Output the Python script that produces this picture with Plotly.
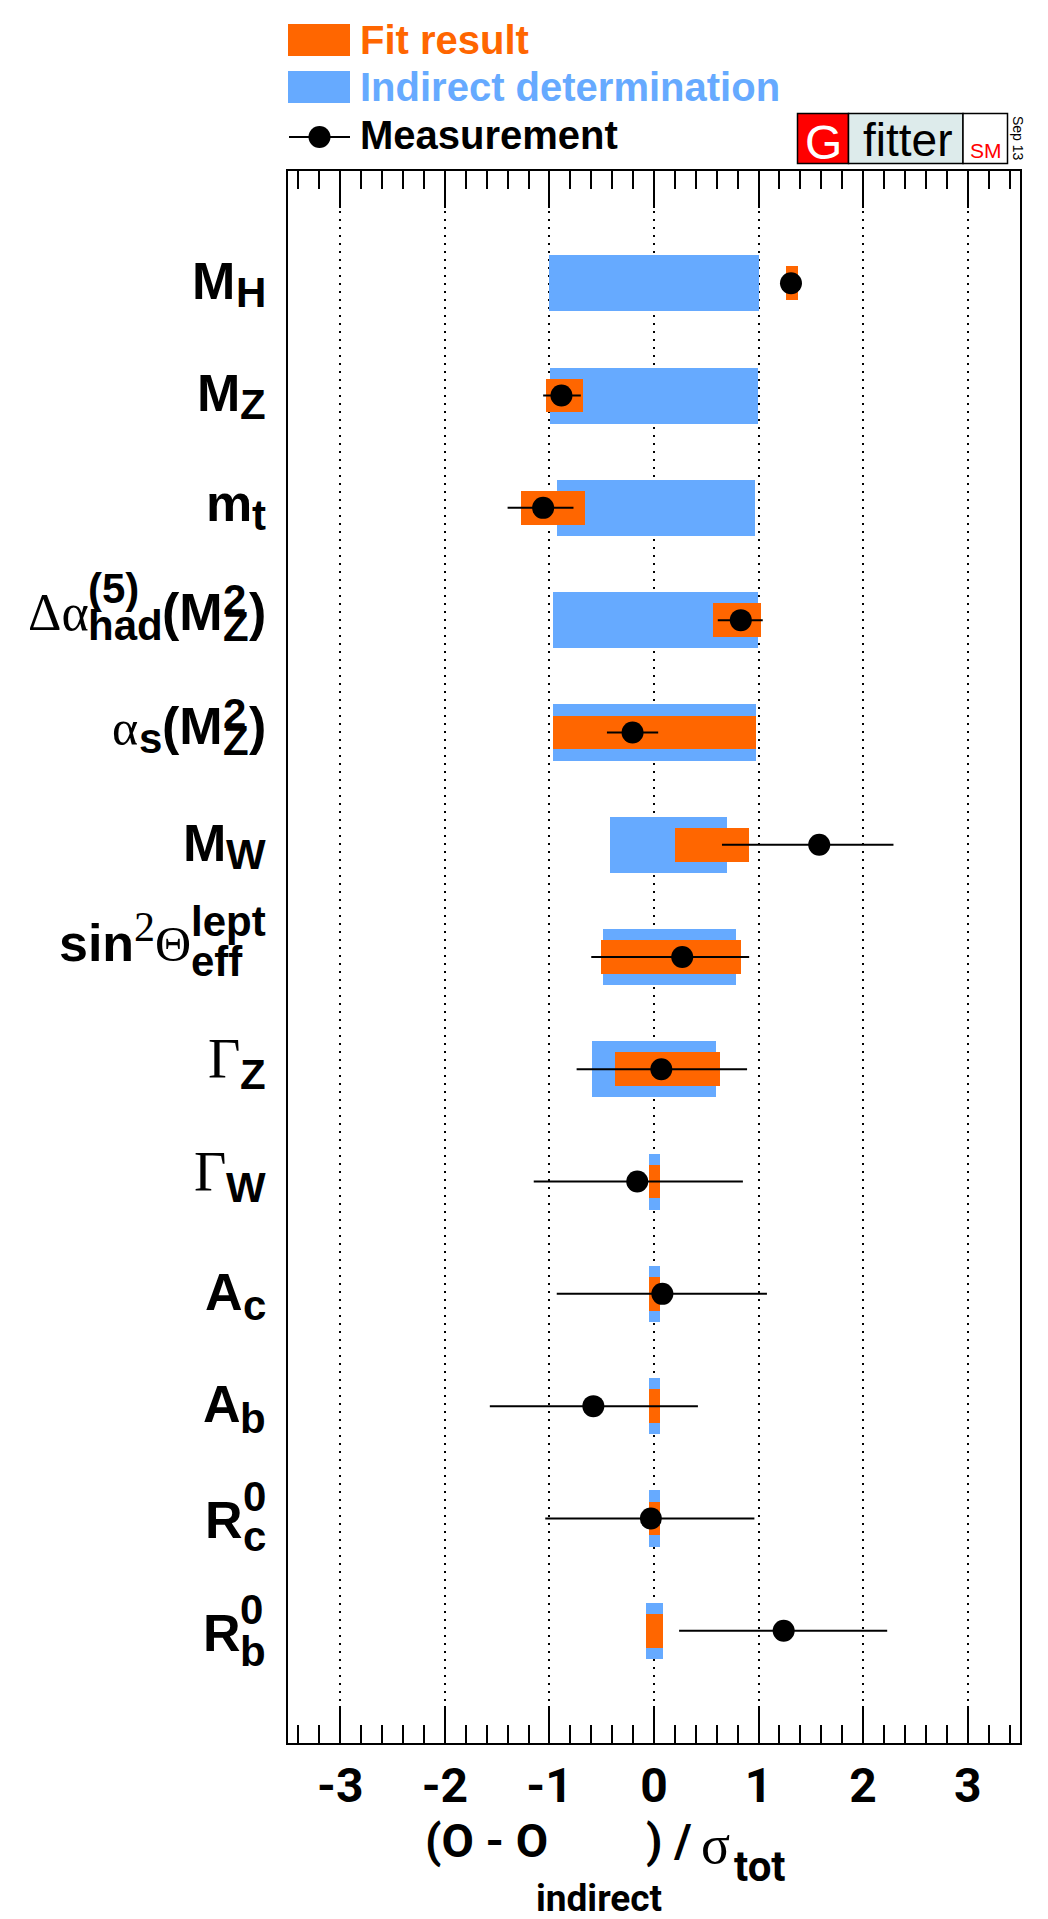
import plotly.graph_objects as go

# ---------------- data (values in units of sigma_tot) ----------------
rows = list(range(13))  # top to bottom
observables = ["M_H", "M_Z", "m_t", "Delta alpha_had(M_Z^2)", "alpha_s(M_Z^2)", "M_W",
               "sin^2 theta_eff^lept", "Gamma_Z", "Gamma_W", "A_c", "A_b", "R_c^0", "R_b^0"]
indirect_lo = [-1.00, -0.99, -0.93, -0.97, -0.97, -0.42, -0.49, -0.59, -0.05, -0.05, -0.05, -0.05, -0.076]
indirect_hi = [1.00, 0.99, 0.97, 0.99, 0.98, 0.70, 0.78, 0.59, 0.058, 0.058, 0.058, 0.058, 0.086]
fit_lo = [1.26, -1.03, -1.27, 0.56, -0.97, 0.20, -0.51, -0.375, -0.05, -0.05, -0.05, -0.05, -0.076]
fit_hi = [1.375, -0.68, -0.66, 1.02, 0.98, 0.91, 0.83, 0.635, 0.058, 0.058, 0.058, 0.058, 0.086]
meas = [1.31, -0.885, -1.06, 0.83, -0.205, 1.58, 0.27, 0.07, -0.16, 0.08, -0.58, -0.03, 1.24]
meas_lo = [1.27, -1.06, -1.40, 0.61, -0.45, 0.65, -0.60, -0.74, -1.15, -0.93, -1.57, -1.04, 0.24]
meas_hi = [1.35, -0.70, -0.77, 1.04, 0.04, 2.29, 0.91, 0.89, 0.85, 1.08, 0.42, 0.96, 2.23]
tick_vals = [-3, -2, -1, 0, 1, 2, 3]
tick_text = ["-3", "-2", "-1", "0", "1", "2", "3"]

ORANGE = "#FF6600"
BLUE = "#66AAFF"
SANS = "Liberation Sans"
COND = "Roboto"
SERIF = "Liberation Serif"

W, H = 1048, 1919
PL, PR, PT, PB = 288, 28, 171, 176
PW, PH = W - PL - PR, H - PT - PB

fig = go.Figure()

fig.add_trace(go.Bar(orientation="h", y=rows,
                     x=[h - l for l, h in zip(indirect_lo, indirect_hi)], base=indirect_lo,
                     width=0.5, marker=dict(color=BLUE, line=dict(width=0)),
                     name="Indirect determination", showlegend=False))
fig.add_trace(go.Bar(orientation="h", y=rows,
                     x=[h - l for l, h in zip(fit_lo, fit_hi)], base=fit_lo,
                     width=0.3, marker=dict(color=ORANGE, line=dict(width=0)),
                     name="Fit result", showlegend=False))
fig.add_trace(go.Scatter(x=meas, y=rows, mode="markers",
                         marker=dict(size=22, color="black", line=dict(width=0)),
                         error_x=dict(type="data", symmetric=False,
                                      array=[h - m for m, h in zip(meas, meas_hi)],
                                      arrayminus=[m - l for m, l in zip(meas, meas_lo)],
                                      width=0, thickness=2, color="black"),
                         name="Measurement", showlegend=False))

# ---------------- helpers ----------------
WB = {' ': 278, '(': 333, ')': 333, '-': 333, '/': 278, '0': 556, '1': 556, '2': 556, '3': 556,
      '5': 556, 'A': 722, 'H': 722, 'M': 833, 'O': 778, 'R': 722, 'W': 944, 'Z': 611,
      'a': 556, 'b': 611, 'c': 556, 'd': 611, 'e': 556, 'f': 333, 'h': 611, 'i': 278,
      'l': 278, 'm': 889, 'n': 611, 'o': 611, 'p': 611, 'r': 389, 's': 556, 't': 333, 'u': 611}
WS = {'Δ': 612, 'α': 540, 'Γ': 578, 'Θ': 722, 'σ': 550, '2': 500, ' ': 250}


def tw(text, size, fam):
    if fam == "s":
        return sum(WS.get(c, 500) for c in text) * size / 1000.0
    return sum(WB.get(c, 556) for c in text) * size / 1000.0


def font_of(fam, size, color):
    if fam == "b":
        return dict(family=SANS, size=size, color=color, weight="bold")
    if fam == "r":
        return dict(family=COND, size=size, color=color, weight="bold")
    return dict(family=SERIF, size=size, color=color, weight="normal")


def center_shift(fam, size):
    if fam == "s":
        asc, desc = 0.891, 0.216
    elif fam == "r":
        asc, desc = 0.928, 0.244
    else:
        asc, desc = 0.905, 0.212
    return size * (asc - desc) / 2.0


def row_text(px_left, row, base_off, text, fam, size, color="black"):
    c_off = base_off - center_shift(fam, size)
    fig.add_annotation(xref="paper", x=0, xanchor="left", xshift=px_left - PL,
                       yref="y", y=row, yanchor="middle", yshift=-c_off,
                       text=text, showarrow=False, font=font_of(fam, size, color),
                       borderpad=0, borderwidth=0)


def px_text(px, baseline, text, fam, size, color="black", xanchor="left"):
    cy = baseline - center_shift(fam, size)
    fig.add_annotation(xref="paper", x=(px - PL) / PW, xanchor=xanchor,
                       yref="paper", y=1 - (cy - PT) / PH, yanchor="middle",
                       text=text, showarrow=False, font=font_of(fam, size, color),
                       borderpad=0, borderwidth=0)


def pxx(px):
    return (px - PL) / PW


def pxy(py):
    return 1 - (py - PT) / PH


# ---------------- y labels (ROOT-style stacked sub/superscripts) ----------------
MAIN, SUB = 52, 42
label_specs = [
    (16, [("t", "M", "b", MAIN, 0), ("t", "H", "b", SUB, 8)]),
    (15, [("t", "M", "b", MAIN, 0), ("t", "Z", "b", SUB, 8)]),
    (13, [("t", "m", "b", MAIN, 0), ("t", "t", "b", SUB, 9)]),
    (10, [("t", "Δα", "s", 52, 0), ("st", "had", 10, "(5)", -27, SUB),
          ("t", "(M", "b", MAIN, 0), ("st", "Z", 11, "2", -16, SUB), ("t", ")", "b", MAIN, 0)]),
    (12, [("t", "α", "s", 50, 0), ("t", "s", "b", SUB, 9),
          ("t", "(M", "b", MAIN, 0), ("st", "Z", 11, "2", -16, SUB), ("t", ")", "b", MAIN, 0)]),
    (16, [("t", "M", "b", MAIN, 0), ("t", "W", "b", SUB, 8)]),
    (4, [("t", "sin", "b", MAIN, 0), ("t", "2", "s", SUB, -20), ("t", "Θ", "s", 50, 0),
         ("st", "eff", 15, "lept", -25, SUB)]),
    (9, [("t", "Γ", "s", 56, 0), ("t", "Z", "b", SUB, 11)]),
    (9, [("t", "Γ", "s", 56, 0), ("t", "W", "b", SUB, 11)]),
    (16, [("t", "A", "b", MAIN, 0), ("t", "c", "b", SUB, 10)]),
    (16, [("t", "A", "b", MAIN, 0), ("t", "b", "b", SUB, 11)]),
    (20, [("t", "R", "b", MAIN, 0), ("st", "c", 13, "0", -27, SUB)]),
    (20, [("t", "R", "b", MAIN, 0), ("st", "b", 15, "0", -27, SUB)]),
]
LABEL_RIGHT = 266


def seg_width(s):
    if s[0] == "t":
        return tw(s[1], s[3], s[2])
    return max(tw(s[1], s[5], "b"), tw(s[3], s[5], "b"))


for row, (boff, segs) in zip(rows, label_specs):
    total = sum(seg_width(s) for s in segs)
    x = LABEL_RIGHT - total
    for s in segs:
        if s[0] == "t":
            row_text(x, row, boff + s[4], s[1], s[2], s[3])
        else:
            row_text(x, row, boff + s[2], s[1], "b", s[5])
            row_text(x, row, boff + s[4], s[3], "b", s[5])
        x += seg_width(s)

# ---------------- x axis title ----------------
TB = 1857
px_text(425, TB, "(O - O", "r", 47)
px_text(536, TB + 54, "indirect", "r", 37)
px_text(646, TB, ") /", "r", 47)
px_text(701, TB + 6, "σ", "s", 54)
px_text(734, TB + 24, "tot", "r", 42)

# ---------------- legend ----------------
shapes = []
shapes.append(dict(type="rect", xref="paper", yref="paper", x0=pxx(288), x1=pxx(350),
                   y0=pxy(24), y1=pxy(56), fillcolor=ORANGE, line=dict(width=0)))
shapes.append(dict(type="rect", xref="paper", yref="paper", x0=pxx(288), x1=pxx(350),
                   y0=pxy(71), y1=pxy(103), fillcolor=BLUE, line=dict(width=0)))
shapes.append(dict(type="line", xref="paper", yref="paper", x0=pxx(289), x1=pxx(350),
                   y0=pxy(137), y1=pxy(137), line=dict(color="black", width=2)))
shapes.append(dict(type="circle", xref="paper", yref="paper", x0=pxx(308.5), x1=pxx(330.5),
                   y0=pxy(126), y1=pxy(148), fillcolor="black", line=dict(width=0)))
px_text(360, 53.5, "Fit result", "b", 40, ORANGE)
px_text(360, 100.5, "Indirect determination", "b", 40, BLUE)
px_text(360, 149, "Measurement", "b", 40, "black")

# ---------------- Gfitter logo ----------------
shapes.append(dict(type="rect", xref="paper", yref="paper", x0=pxx(797.5), x1=pxx(848.5),
                   y0=pxy(113.5), y1=pxy(163.5), fillcolor="#FF0000", line=dict(color="black", width=1.5)))
shapes.append(dict(type="rect", xref="paper", yref="paper", x0=pxx(848.5), x1=pxx(963),
                   y0=pxy(113.5), y1=pxy(163.5), fillcolor="#DDEBEB", line=dict(color="black", width=1.5)))
shapes.append(dict(type="rect", xref="paper", yref="paper", x0=pxx(963), x1=pxx(1007.5),
                   y0=pxy(113.5), y1=pxy(163.5), fillcolor="white", line=dict(color="black", width=1.5)))
fig.add_annotation(xref="paper", yref="paper", x=pxx(823), y=pxy(142.5), xanchor="center", yanchor="middle",
                   text="G", showarrow=False, font=dict(family=SANS, size=48, color="white"),
                   borderpad=0, borderwidth=0)
fig.add_annotation(xref="paper", yref="paper", x=pxx(907.5), y=pxy(140.5), xanchor="center", yanchor="middle",
                   text="fitter", showarrow=False, font=dict(family=SANS, size=46, color="black"),
                   borderpad=0, borderwidth=0)
fig.add_annotation(xref="paper", yref="paper", x=pxx(986), y=pxy(150), xanchor="center", yanchor="middle",
                   text="SM", showarrow=False, font=dict(family=SANS, size=21, color="#FF0000"),
                   borderpad=0, borderwidth=0)
fig.add_annotation(xref="paper", yref="paper", x=pxx(1018), y=pxy(138), xanchor="center", yanchor="middle",
                   text="Sep 13", showarrow=False, textangle=90, font=dict(family=SANS, size=14, color="black"),
                   borderpad=0, borderwidth=0)

fig.update_layout(
    width=W, height=H, autosize=False,
    margin=dict(l=PL, r=PR, t=PT, b=PB, pad=0),
    template="none",
    paper_bgcolor="white", plot_bgcolor="white",
    barmode="overlay", bargap=0,
    showlegend=False,
    shapes=shapes,
    xaxis=dict(range=[-3.5, 3.5], tickvals=tick_vals, ticktext=tick_text,
               ticks="inside", ticklen=37, tickwidth=1.5, tickcolor="black",
               showline=True, linecolor="black", linewidth=2, mirror="ticks",
               showgrid=True, gridcolor="black", gridwidth=1.5, griddash="2px,6px",
               zeroline=False,
               minor=dict(ticks="inside", ticklen=18, tickwidth=1.5, tickcolor="black",
                          dtick=0.2, tick0=0, showgrid=False),
               tickfont=dict(family=COND, size=48, color="black", weight="bold"),
               ticklabelstandoff=-1, fixedrange=True),
    yaxis=dict(range=[13, -1], showticklabels=False, ticks="",
               showline=True, linecolor="black", linewidth=2, mirror=True,
               showgrid=False, zeroline=False, fixedrange=True),
)

fig.write_html("out.html")
